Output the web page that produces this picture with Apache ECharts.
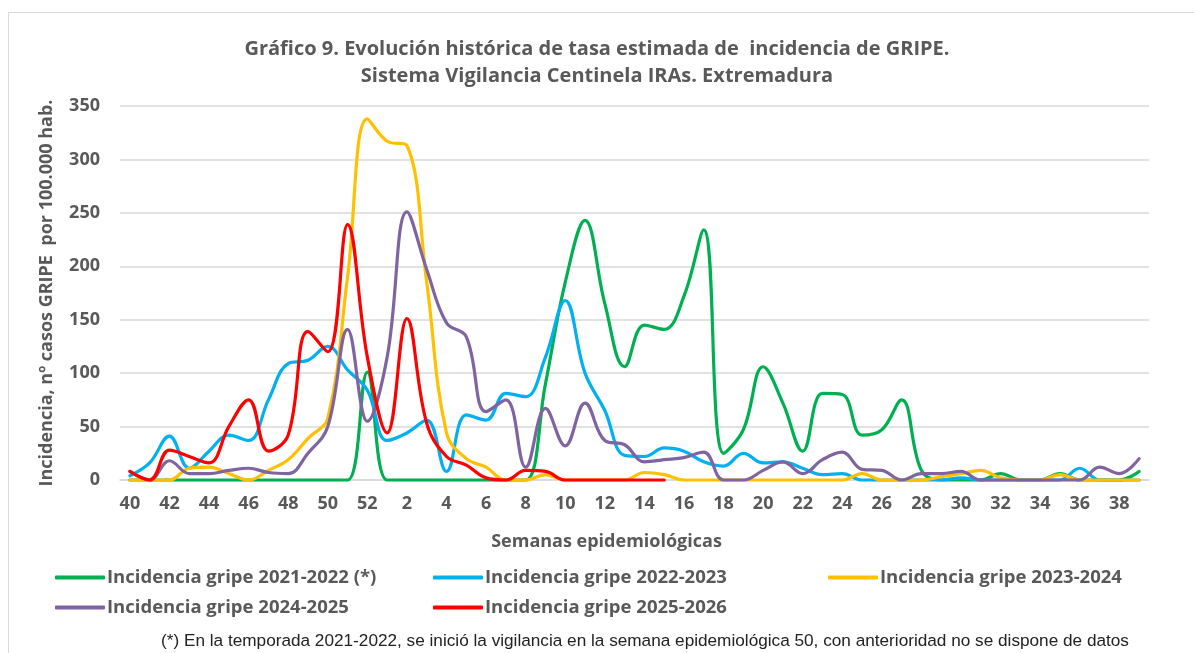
<!DOCTYPE html>
<html>
<head>
<meta charset="utf-8">
<script src="https://cdn.jsdelivr.net/npm/echarts@6/dist/echarts.min.js"></script>
<style>
html,body{margin:0;padding:0;background:#fff;}
#chart{width:1194px;height:653px;}
</style>
</head>
<body>
<div id="chart"></div>
<script>
const weeks = ['40','41','42','43','44','45','46','47','48','49','50','51','52',
  '1','2','3','4','5','6','7','8','9','10','11','12','13','14','15','16','17','18','19','20',
  '21','22','23','24','25','26','27','28','29','30','31','32','33','34','35','36','37','38','39'];

const seriesNames = ['Incidencia gripe 2021-2022 (*)','Incidencia gripe 2022-2023','Incidencia gripe 2023-2024','Incidencia gripe 2024-2025','Incidencia gripe 2025-2026'];

const gripe2122 = [0,0,0,0,0,0,0,0,0,0,0,0,101,
  0,0,0,0,0,0,0,0,90,185,243,165,106,145,141,172,234,25,47,106,72,27,81,80,42,47,75,9,0,0,0,6,0,0,6,0,0,0,8];
const gripe2223 = [4,16,41,11,27,42,37,75,109,112,125,103,84,
  37,44,56,8,61,56,81,78,115,168,100,65,23,22,30,27,17,13,25,16,17,11,5,6,0,0,0,0,0,2,0,0,0,0,0,11,0,0,0];
const gripe2324 = [0,0,0,11,12,6,0,9,19,39,58,190,338,
  317,313,185,44,20,12,0,0,5,0,0,0,0,7,5,0,0,0,0,0,0,0,0,0,6,0,0,0,3,6,9,2,0,0,5,0,0,0,0];
const gripe2425 = [8,0,18,6,6,9,11,7,6,25,50,141,55,
  115,251,197,147,134,64,75,12,67,32,72,37,33,17,19,21,26,0,0,9,17,6,19,26,10,9,0,6,6,8,0,0,0,0,0,0,12,6,20];
const gripe2526 = [8,0,28,22,16,50,75,27,42,139,120,239,115,
  44,151,53,22,14,2,0,9,8,0,0,0,0,0,0];

const yTicks = [0,50,100,150,200,250,300,350];

const colors = ['#00B050','#00B0F0','#FFC000','#8064A2','#FF0000'];
const allData = [gripe2122, gripe2223, gripe2324, gripe2425, gripe2526];

const chart = echarts.init(document.getElementById('chart'), null, {renderer:'canvas'});

const fontMain = '"Open Sans", "Liberation Sans", sans-serif';
const legendPos = [
  {left: 55, top: 568},
  {left: 433, top: 568},
  {left: 828, top: 568},
  {left: 55, top: 598},
  {left: 433, top: 598}
];
const titleStyle = {fontFamily: fontMain, fontSize: 20, fontWeight: 'bold', color: '#595959'};

const option = {
  backgroundColor: '#ffffff',
  animation: false,
  title: [{
    text: 'Gráfico 9. Evolución histórica de tasa estimada de  incidencia de GRIPE.',
    left: 'center',
    top: 39,
    padding: 0,
    textStyle: titleStyle
  }, {
    text: 'Sistema Vigilancia Centinela IRAs. Extremadura',
    left: 'center',
    top: 66,
    padding: 0,
    textStyle: titleStyle
  }, {
    text: '(*) En la temporada 2021-2022, se inició la vigilancia en la semana epidemiológica 50, con anterioridad no se dispone de datos',
    left: 645,
    top: 633,
    padding: 0,
    textAlign: 'center',
    textStyle: {fontFamily: '"Liberation Sans", Arial, sans-serif', fontSize: 17.2, fontWeight: 'normal', color: '#222222'}
  }],
  graphic: [{
    type: 'polyline',
    shape: {points: [[8.5, 700],[8.5, 12.5],[1300, 12.5]]},
    style: {stroke: '#d9d9d9', lineWidth: 1, fill: null},
    silent: true
  }],
  legend: seriesNames.map((n, i) => ({
    data: [n],
    left: legendPos[i].left,
    top: legendPos[i].top,
    icon: 'roundRect',
    itemWidth: 50,
    itemHeight: 4,
    padding: 0,
    selectedMode: false,
    textStyle: {fontFamily: fontMain, fontSize: 18.5, fontWeight: 'bold', color: '#595959', padding: [0,0,0,-3]}
  })),
  grid: {left: 120, right: 45, top: 106, bottom: 173, containLabel: false},
  xAxis: {
    type: 'category',
    data: weeks,
    boundaryGap: true,
    name: 'Semanas epidemiológicas',
    nameLocation: 'middle',
    nameGap: 53,
    nameTextStyle: {fontFamily: fontMain, fontSize: 18, fontWeight: 'bold', color: '#595959', padding: [0, 56, 0, 0]},
    axisLine: {show: true, lineStyle: {color: '#d9d9d9', width: 1.5}},
    axisTick: {show: false},
    axisLabel: {interval: 1, margin: 15, fontFamily: fontMain, fontSize: 18, fontWeight: 'bold', color: '#595959'},
    splitLine: {show: false}
  },
  yAxis: {
    type: 'value',
    min: yTicks[0],
    max: yTicks[yTicks.length - 1],
    interval: yTicks[1] - yTicks[0],
    name: 'Incidencia, nº casos GRIPE  por 100.000 hab.',
    nameLocation: 'middle',
    nameRotate: 90,
    nameGap: 64,
    nameTextStyle: {fontFamily: fontMain, fontSize: 18, fontWeight: 'bold', color: '#595959'},
    axisLine: {show: false},
    axisTick: {show: false},
    axisLabel: {margin: 20, fontFamily: fontMain, fontSize: 18, fontWeight: 'bold', color: '#595959'},
    splitLine: {show: true, lineStyle: {color: '#d9d9d9', width: 1.5}}
  },
  series: seriesNames.map((n, i) => ({
    name: n,
    type: 'line',
    data: allData[i],
    smooth: 0.4,
    showSymbol: false,
    symbol: 'none',
    clip: false,
    connectNulls: false,
    color: colors[i],
    lineStyle: {color: colors[i], width: 3.2, cap: 'round', join: 'round'},
    itemStyle: {color: colors[i]},
    z: 2 + i
  }))
};

chart.setOption(option);
</script>
</body>
</html>
